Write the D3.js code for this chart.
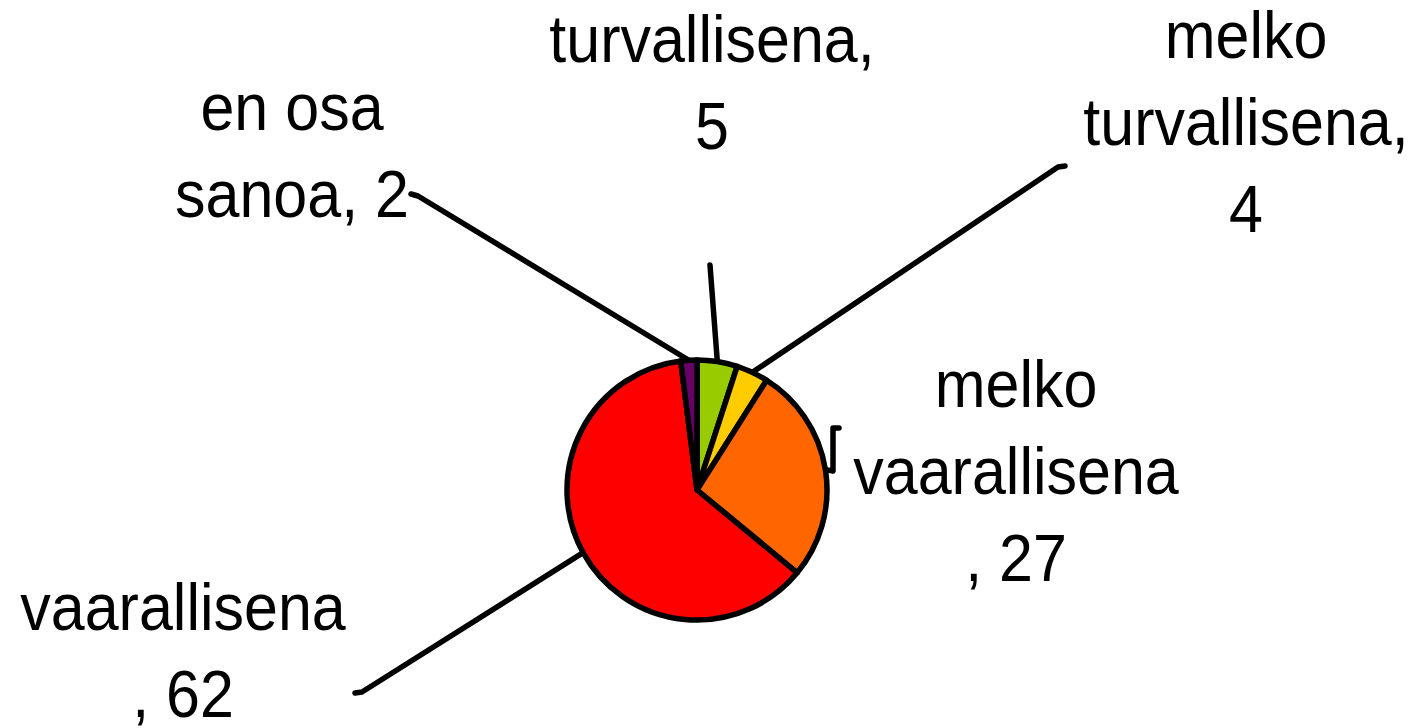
<!DOCTYPE html>
<html>
<head>
<meta charset="utf-8">
<script src="https://cdn.jsdelivr.net/npm/d3@7"></script>
<style>
  html, body { margin: 0; padding: 0; background: #fff; }
  svg { display: block; }
  text { font-family: "Liberation Sans", Arial, sans-serif; font-size: 61px; fill: #000; }
</style>
</head>
<body>
<script>
// data, clockwise from 12 o'clock
var categories = ["turvallisena", "melko turvallisena", "melko vaarallisena", "vaarallisena", "en osa sanoa"];
var values = [5, 4, 27, 62, 2];
var colors = ["#99CC00", "#FFCC00", "#FF6600", "#FF0000", "#660066"];
var labelLines = [
  ["turvallisena,", "5"],
  ["melko", "turvallisena,", "4"],
  ["melko", "vaarallisena", ", 27"],
  ["vaarallisena", ", 62"],
  ["en osa", "sanoa, 2"]
];

function main() {
  var width = 1421;
  var height = 728;
  var cx = 697, cy = 490, radius = 130;
  var lineHeight = 87;
  var stretch = 1.1; // glyphs in the original are a bit taller

  // label placement (centre x, first baseline) and leader end at the label
  var labelPos = [
    { x: 712, y: 62, lead: [[710, 265]] },
    { x: 1246, y: 58, lead: [[1058, 167], [1065, 166]] },
    { x: 1016, y: 407, lead: [[833, 471], [833, 428], [839, 428]] },
    { x: 183, y: 630, lead: [[362, 692], [355, 693]] },
    { x: 292, y: 130, lead: [[418, 196], [411, 194]] }
  ];

  var svg = d3.select("body")
    .append("svg")
    .attr("width", width)
    .attr("height", height);

  var pie = d3.pie().sort(null).value(function (d) { return d; });
  var arcs = pie(values);

  var arc = d3.arc().innerRadius(0).outerRadius(radius);
  var edge = d3.arc().innerRadius(radius).outerRadius(radius);

  // leader lines (drawn under the pie)
  var line = d3.line();
  svg.append("g")
    .selectAll("path")
    .data(arcs)
    .enter()
    .append("path")
    .attr("d", function (d, i) {
      var c = edge.centroid(d);
      var pts = [[cx + c[0], cy + c[1]]].concat(labelPos[i].lead);
      return line(pts);
    })
    .attr("fill", "none")
    .attr("stroke", "#000")
    .attr("stroke-width", 5.5)
    .attr("stroke-linecap", "round")
    .attr("stroke-linejoin", "round");

  // slices
  var g = svg.append("g").attr("transform", "translate(" + cx + "," + cy + ")");
  g.selectAll("path")
    .data(arcs)
    .enter()
    .append("path")
    .attr("d", arc)
    .attr("fill", function (d, i) { return colors[i]; })
    .attr("stroke", "#000")
    .attr("stroke-width", 5.5)
    .attr("stroke-linejoin", "round");

  // labels
  var labels = svg.append("g")
    .selectAll("text")
    .data(labelLines)
    .enter()
    .append("text")
    .attr("text-anchor", "middle")
    .attr("transform", function (d, i) {
      return "translate(" + labelPos[i].x + "," + labelPos[i].y + ") scale(1," + stretch + ")";
    });

  labels.selectAll("tspan")
    .data(function (d) { return d; })
    .enter()
    .append("tspan")
    .attr("x", 0)
    .attr("y", function (d, j) { return j * lineHeight / stretch; })
    .text(function (d) { return d; });
}
document.addEventListener("DOMContentLoaded", main);
</script>
</body>
</html>
